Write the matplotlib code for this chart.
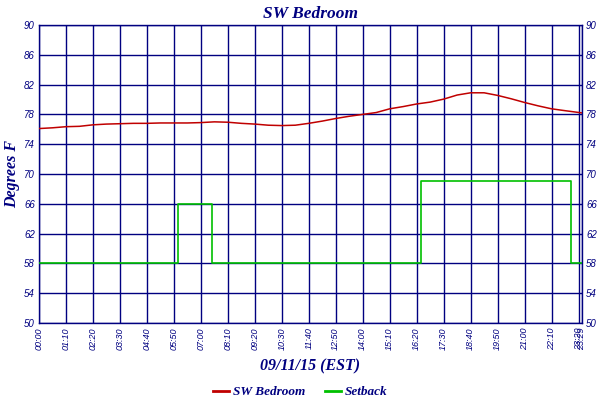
import numpy as np
import matplotlib.pyplot as plt
from matplotlib.lines import Line2D

# minutes after midnight, 09/11/15
temp_minutes = [0, 35, 70, 105, 140, 175, 210, 245, 280, 315, 350, 385, 420, 455,
                490, 525, 560, 595, 630, 665, 700, 735, 770, 805, 840, 875, 910,
                945, 980, 1015, 1050, 1085, 1120, 1155, 1190, 1225, 1260, 1295,
                1330, 1365, 1409]
bedroom_temp = [76.1, 76.2, 76.35, 76.4, 76.6, 76.7, 76.75, 76.8, 76.8, 76.85, 76.85,
                76.85, 76.9, 77.0, 76.95, 76.8, 76.7, 76.55, 76.5, 76.55, 76.8, 77.1,
                77.45, 77.75, 78.0, 78.25, 78.75, 79.05, 79.4, 79.65, 80.05, 80.6,
                80.9, 80.9, 80.55, 80.1, 79.6, 79.15, 78.75, 78.5, 78.2]

setback_minutes = [0, 360, 450, 990, 1380, 1409]
setback_temp = [58, 66, 58, 69, 58, 58]

end_minute = 1409
y_ticks = list(range(50, 91, 4))

NAVY = "#000080"


def hhmm(m):
    return "%02d:%02d" % (m // 60, m % 60)


x_ticks = list(range(0, end_minute, 70)) + [end_minute]
x_labels = [hhmm(m) for m in x_ticks]

fig = plt.figure(figsize=(6, 4), dpi=100)
ax = fig.add_axes([0.065, 0.1925, 0.905, 0.745])

ax.plot(temp_minutes, bedroom_temp, color="#c00000", lw=1.1, zorder=3)
ax.step(setback_minutes, setback_temp, where="post", color="#00c000", lw=1.2, zorder=3)

ax.set_xlim(0, end_minute)
ax.set_ylim(50, 90)
ax.set_xticks(x_ticks)
ax.set_xticklabels(x_labels, rotation=90, fontsize=6.5, style="italic", color=NAVY,
                   family="Liberation Sans")
ax.set_yticks(y_ticks)
ax.set_yticklabels([str(v) for v in y_ticks], fontsize=7, style="italic", color=NAVY,
                   family="Liberation Sans")
ax.tick_params(length=0, pad=3)
ax.tick_params(axis="y", labelright=True)
ax.grid(True, color=NAVY, lw=1.0)
for s in ax.spines.values():
    s.set_color(NAVY)
    s.set_linewidth(1.0)

serif = dict(family="Liberation Serif", style="italic", weight="bold", color=NAVY)
ax.set_title("SW Bedroom", fontsize=12.5, pad=5, **serif)
ax.set_xlabel("09/11/15 (EST)", fontsize=11.5, labelpad=6, **serif)
ax.set_ylabel("Degrees F", fontsize=11.5, labelpad=3, **serif)

handles = [Line2D([], [], color="#c00000", lw=2), Line2D([], [], color="#00c000", lw=2)]
leg = fig.legend(handles, ["SW Bedroom", "Setback"], loc="lower center", ncol=2,
                 frameon=False, bbox_to_anchor=(0.5, -0.025), handlelength=1.2,
                 handletextpad=0.3, columnspacing=1.5,
                 prop=dict(family="Liberation Serif", style="italic", weight="bold", size=9.5))
for t in leg.get_texts():
    t.set_color(NAVY)

fig.savefig("out.png", dpi=100)
